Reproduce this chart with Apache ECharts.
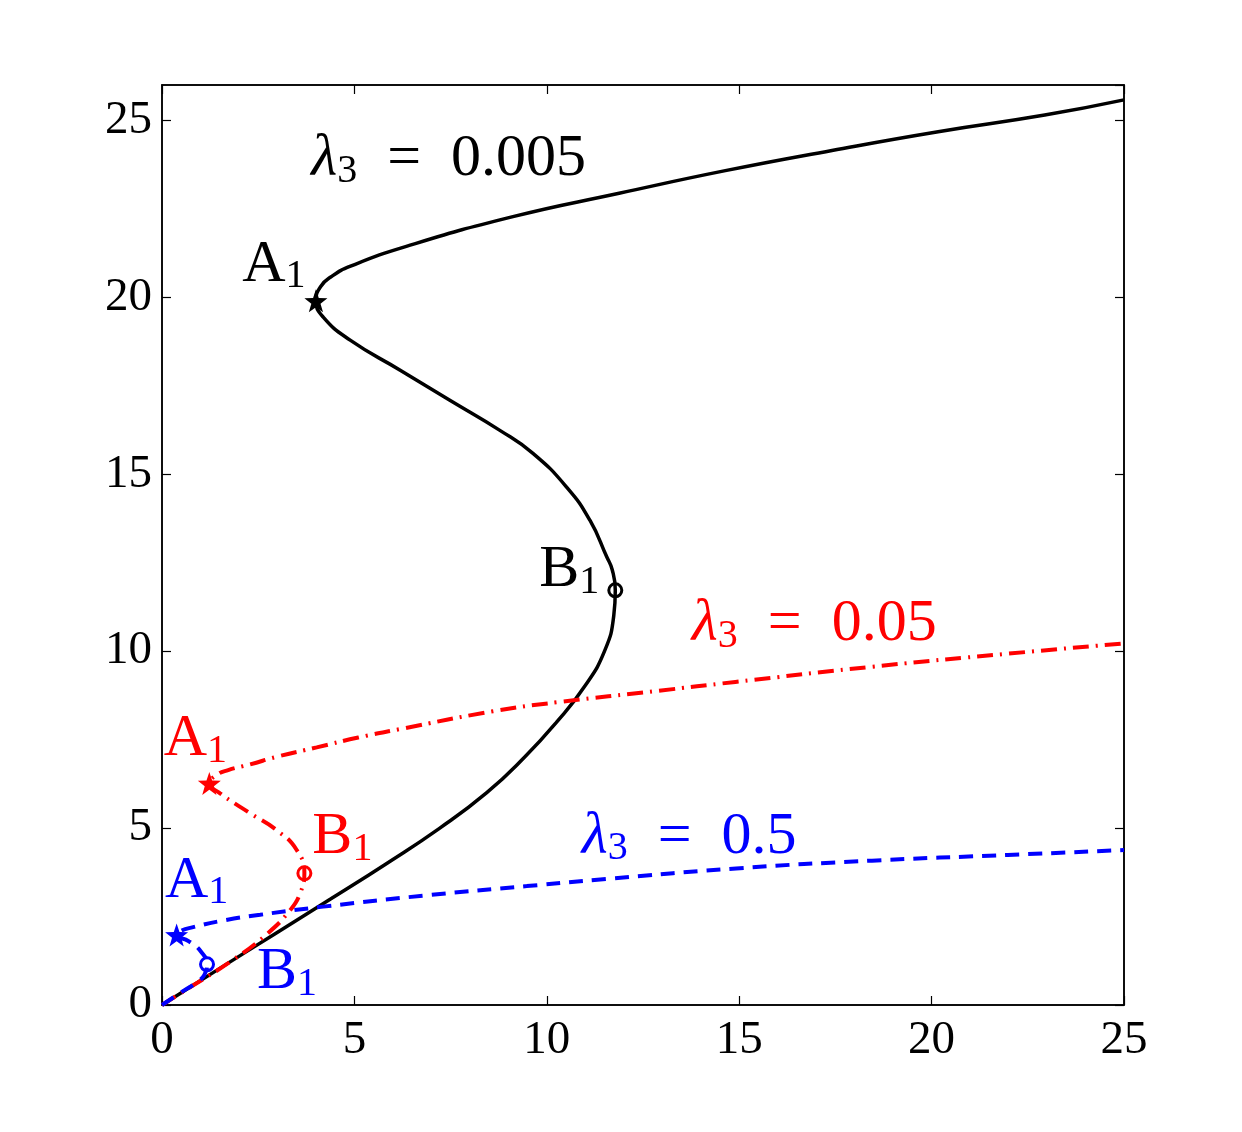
<!DOCTYPE html>
<html>
<head>
<meta charset="utf-8">
<script src="https://cdn.jsdelivr.net/npm/echarts@6/dist/echarts.min.js"></script>
<style>
    html, body { margin: 0; padding: 0; background: #fff; }
    #main { width: 1242px; height: 1132px; }
</style>
</head>
<body>
<div id="main"></div>
<script>
// curves: [x, y] pairs, ordered along the branch from the origin
var curveBlack = [[0,0],[1.45,1],[2.92,2],[4.39,3],[5.84,4],[7.22,5],[8.44,6],[9.42,7],[10.26,8],[10.98,9],[11.5,10],[11.74,11],[11.78,11.72],[11.7,12.3],[11.56,12.66],[11.12,13.7],[10.52,14.63],[9.64,15.59],[8.78,16.24],[7.48,17.09],[6.19,17.94],[4.89,18.79],[4.19,19.44],[4.0,19.9],[4.12,20.3],[4.42,20.6],[4.9,20.88],[6.35,21.44],[9.12,22.28],[11.88,22.94],[14.64,23.58],[17.41,24.15],[20.17,24.68],[22.94,25.15],[25,25.58]];
var curveRed = [[0,0],[0.55,0.38],[1.85,1.28],[2.72,2.0],[3.33,2.68],[3.59,3.16],[3.7,3.72],[3.5,4.38],[2.98,4.94],[2.29,5.42],[1.51,5.98],[1.23,6.26],[1.42,6.5],[1.72,6.64],[2.29,6.8],[3.0,7.02],[4.02,7.28],[5.1,7.56],[6.2,7.8],[8.6,8.3],[10.3,8.56],[12.9,8.88],[14.9,9.13],[18.45,9.56],[22,9.93],[25,10.22]];
var curveBlue = [[0,0],[0.47,0.34],[0.9,0.64],[1.1,0.85],[1.17,1.15],[1.02,1.5],[0.7,1.8],[0.38,1.98],[0.5,2.1],[0.81,2.2],[1.5,2.37],[2.55,2.55],[4.19,2.78],[6.88,3.1],[9.48,3.36],[11.64,3.57],[14.92,3.86],[18.45,4.08],[21.98,4.24],[25,4.38]];

// turning points A1 (star) and B1 (circle)
var pointsA = { black: [4.0, 19.9], red: [1.23, 6.26], blue: [0.38, 1.98] };
var pointsB = { black: [11.78, 11.72], red: [3.7, 3.72], blue: [1.17, 1.15] };

// λ3 annotations: [x, y, value]
var lambdaLabels = { black: [7.45, 23.9, '0.005'], red: [16.95, 10.75, '0.05'], blue: [13.7, 4.75, '0.5'] };

var xTicks = { min: 0, max: 25, interval: 5 };
var yTicks = { min: 0, max: 26, interval: 5 };

var colors = { black: '#000000', red: '#ff0000', blue: '#0000ff' };
var font = 'Liberation Serif';

var star = 'path://M0,-10 L2.35,-3.24 L9.51,-3.09 L3.8,1.24 L5.88,8.09 L0,4 L-5.88,8.09 L-3.8,1.24 L-9.51,-3.09 L-2.35,-3.24 Z';

var richText = {
    m: { fontFamily: font, fontSize: 60, lineHeight: 64 },
    l: { fontFamily: font, fontSize: 60, fontStyle: 'italic', lineHeight: 64 },
    s: { fontFamily: font, fontSize: 40, lineHeight: 36, verticalAlign: 'bottom' }
};

// label offsets (px) from each marker
var offA = { black: [-42, -36], red: [-14, -44], blue: [20, -54] };
var offB = { black: [-46, -20], red: [38, -36], blue: [80, 8] };

var chart = echarts.init(document.getElementById('main'));

function curveSeries(data, key, type, width) {
    return {
        type: 'line',
        data: data,
        showSymbol: false,
        smooth: 0.5,
        z: 3,
        lineStyle: { color: colors[key], width: width, type: type }
    };
}

function markerSeries(key) {
    return [{
        type: 'scatter',
        z: 5,
        symbol: star,
        symbolSize: 23,
        itemStyle: { color: colors[key], opacity: 1 },
        label: {
            show: true, position: 'inside', offset: offA[key], color: colors[key],
            formatter: '{m|A}{s|1}', rich: richText
        },
        data: [pointsA[key]]
    }, {
        type: 'scatter',
        z: 5,
        symbol: 'circle',
        symbolSize: 13,
        itemStyle: { color: 'rgba(0,0,0,0)', borderColor: colors[key], borderWidth: 3, opacity: 1 },
        label: {
            show: true, position: 'inside', offset: offB[key], color: colors[key],
            formatter: '{m|B}{s|1}', rich: richText
        },
        data: [pointsB[key]]
    }];
}

function lambdaSeries(key) {
    var t = lambdaLabels[key];
    return {
        type: 'scatter',
        symbolSize: 0,
        z: 6,
        itemStyle: { opacity: 1 },
        label: {
            show: true, position: 'inside', color: colors[key],
            formatter: '{l|λ}{s|3}{m|  =  ' + t[2] + '}', rich: richText
        },
        data: [[t[0], t[1]]]
    };
}

var axisCommon = {
    type: 'value',
    splitLine: { show: false },
    axisLine: { show: true, onZero: false, lineStyle: { color: '#000', width: 1.5 } },
    axisTick: { show: true, inside: true, length: 9, lineStyle: { color: '#000', width: 1.2 } }
};

var option = {
    animation: false,
    backgroundColor: '#fff',
    grid: { left: 162, right: 118, top: 85, bottom: 127, show: true, borderColor: '#000', borderWidth: 1.5 },
    xAxis: [
        Object.assign({}, axisCommon, xTicks, {
            position: 'bottom',
            axisLabel: { color: '#000', fontFamily: font, fontSize: 47, margin: 12 }
        }),
        Object.assign({}, axisCommon, xTicks, { position: 'top', axisLabel: { show: false } })
    ],
    yAxis: [
        Object.assign({}, axisCommon, yTicks, {
            position: 'left',
            axisLabel: { color: '#000', fontFamily: font, fontSize: 47, margin: 10, showMaxLabel: false }
        }),
        Object.assign({}, axisCommon, yTicks, { position: 'right', axisLabel: { show: false } })
    ],
    series: [
        curveSeries(curveBlack, 'black', 'solid', 3.5),
        curveSeries(curveRed, 'red', [16, 7, 2, 7], 4),
        curveSeries(curveBlue, 'blue', [14, 9], 4)
    ].concat(markerSeries('black'), markerSeries('red'), markerSeries('blue'),
        [lambdaSeries('black'), lambdaSeries('red'), lambdaSeries('blue')])
};

chart.setOption(option);
</script>
</body>
</html>
